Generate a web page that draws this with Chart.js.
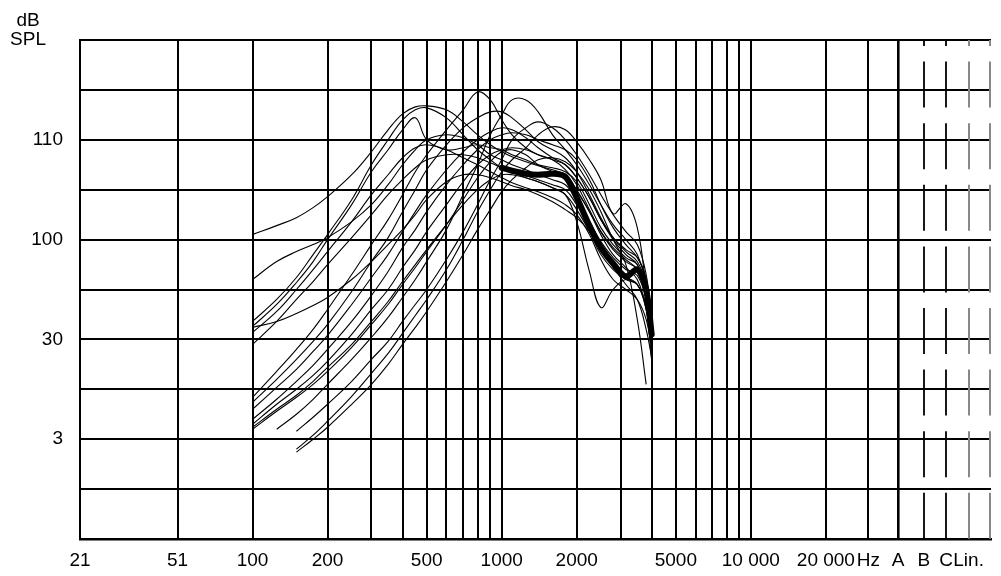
<!DOCTYPE html>
<html><head><meta charset="utf-8">
<script src="https://cdn.jsdelivr.net/npm/chart.js@4"></script>
<style>html,body{margin:0;padding:0;background:#fff;}#wrap{width:1001px;height:576px;position:relative;}</style>
</head><body><div id="wrap"><canvas id="c"></canvas></div>
<script>
const frequencies = [100,125,150,175,200,250,300,350,400,450,500,600,700,800,900,1000,1100,1250,1400,1600,1800,2000,2250,2500,2800,3150,3500,3800,4000];
const curve01 = [100.5,101.4,102.2,103.2,104.3,106.5,108.8,111.0,112.6,113.3,113.4,113.0,111.8,110.5,109.5,108.8,108.3,107.8,107.4,107.0,106.5,105.0,102.8,100.8,99.2,98.0,97.0,94.5,91.5];
const curve02 = [96.0,97.8,98.8,99.5,100.2,101.8,103.5,105.5,107.5,109.0,110.0,110.5,110.2,109.5,108.5,108.0,107.5,107.0,106.5,106.0,105.5,104.0,101.8,99.8,98.2,97.0,96.4,94.0,90.5];
const curve03 = [91.8,94.0,96.2,98.5,100.5,104.0,107.5,110.0,112.0,113.0,113.2,112.2,110.5,109.0,108.0,107.2,106.8,106.2,105.8,105.2,104.5,103.0,100.8,98.5,97.0,96.0,95.5,93.0,89.5];
const curve04 = [91.3,93.5,95.7,97.8,100.0,103.5,106.8,109.0,111.0,112.2,110.0,109.0,109.2,109.5,109.2,109.0,108.5,108.0,107.5,107.2,106.8,105.8,103.5,101.2,99.5,98.2,97.5,95.0,91.0];
const curve05 = [90.7,92.8,95.0,97.0,98.8,101.8,104.5,106.5,108.2,109.2,109.5,109.0,108.2,107.5,106.8,106.2,105.7,105.2,104.8,104.2,103.5,102.5,100.5,98.0,96.0,95.0,94.0,92.0,89.0];
const curve06 = [89.5,91.8,94.0,95.8,97.5,100.2,102.5,104.5,106.0,107.2,108.0,108.5,108.5,108.2,107.7,107.2,106.8,106.4,106.0,105.5,105.0,103.5,101.5,99.2,97.5,96.2,95.5,93.5,90.0];
const curve07 = [84.2,86.8,89.0,91.0,93.0,96.5,99.5,102.0,104.5,106.8,108.5,111.0,113.0,114.8,114.0,112.0,110.5,109.2,108.5,108.0,107.5,106.2,104.2,102.0,100.0,98.5,97.5,94.8,91.0];
const curve08 = [83.7,86.0,88.0,89.8,91.5,94.8,97.8,100.2,102.8,105.0,107.0,109.5,111.2,112.2,112.8,112.8,112.2,111.0,109.8,109.0,108.2,106.8,104.5,102.2,100.2,98.8,97.8,95.5,91.5];
const curve09 = [83.0,85.2,87.0,88.8,90.4,93.5,96.2,98.5,100.8,102.8,104.5,107.0,108.8,110.0,110.8,111.2,111.0,110.2,109.2,108.2,107.5,106.2,104.2,102.0,100.2,99.0,98.2,96.0,92.0];
const curve10 = [82.0,84.0,85.8,87.4,89.0,91.8,94.4,96.8,99.2,101.0,102.8,105.5,107.5,109.0,110.0,110.5,110.7,110.5,110.0,109.5,109.0,108.0,106.0,103.5,101.2,99.5,98.2,96.0,89.5];
const curve11 = [81.5,83.5,85.0,86.4,87.8,90.5,93.0,95.0,97.2,99.0,100.8,103.5,105.8,107.5,108.5,109.0,109.2,109.0,108.5,108.0,107.0,105.5,103.0,100.8,99.0,97.8,97.0,94.0,89.0];
const curve12 = [81.0,82.8,84.2,85.5,86.8,89.2,91.5,93.5,95.5,97.2,98.8,101.5,104.0,106.2,107.8,108.8,109.0,108.5,107.5,106.8,106.0,104.8,102.8,100.5,98.5,97.2,96.0,93.0,87.8];
const curve13 = [null,81.0,82.5,84.0,85.5,88.0,90.2,92.2,94.2,96.0,97.8,101.0,104.5,107.5,110.5,112.5,114.0,114.0,112.8,110.5,109.0,107.5,105.5,103.5,101.5,100.0,98.5,95.5,92.0];
const curve14 = [null,null,80.8,82.2,83.5,85.8,88.0,89.8,91.8,93.5,95.0,98.0,100.8,103.5,106.0,108.0,110.0,111.2,111.8,111.2,110.0,108.5,106.5,104.5,102.5,100.8,99.5,96.5,92.2];
const curve15 = [null,null,79.0,80.4,81.8,84.3,86.6,88.6,90.6,92.4,94.0,97.0,100.0,102.8,105.0,106.8,108.0,109.2,110.5,111.3,111.0,109.8,108.0,106.0,102.6,103.6,101.2,95.0,90.5];
const curve16 = [81.2,83.0,84.4,85.8,87.2,89.5,91.8,93.8,95.8,97.5,99.0,101.5,103.5,105.0,106.0,106.5,106.5,106.2,105.8,105.2,104.5,101.8,96.8,93.2,95.0,96.0,95.5,93.0,89.5];
const curve17 = [91.2,91.8,92.6,93.4,94.2,96.0,97.8,99.5,101.0,102.5,104.0,105.8,106.5,106.5,106.2,105.8,105.4,105.0,104.5,103.8,103.0,102.2,100.8,99.0,97.2,95.5,94.0,91.0,88.2];
const curve18 = [null,null,78.7,80.0,81.2,83.5,85.5,87.5,89.5,91.2,92.8,95.8,98.5,101.0,103.0,104.8,106.0,107.2,108.0,108.2,107.8,106.8,105.0,102.8,100.0,97.5,92.0,85.5,null];
const thickCurve = [null,null,null,null,null,null,null,null,null,null,null,null,null,null,null,107.2,106.9,106.6,106.5,106.6,106.3,104.2,101.4,99.2,97.6,96.3,97.0,95.0,90.5];

const xTickValues = [20.3,50,100,200,300,400,500,600,700,800,900,1000,2000,3000,4000,5000,6000,7000,8000,9000,10000,20000,29600,39000,49400,60800,74800,92000];
const xTickLabels = ['21','51','100','200','','','500','','','','','1000','2000','','','5000','','','','','10 000','20 000','Hz','A','B','C','Lin.',''];
const yTickValues = [70,75,80,85,90,95,100,105,110,115,120];
const yTickLabels = ['','','3','','30','','100','','110','',''];
const yTitle = ['dB','SPL'];

const thinCurves = [curve01,curve02,curve03,curve04,curve05,curve06,curve07,curve08,curve09,curve10,curve11,curve12,curve13,curve14,curve15,curve16,curve17,curve18];
const FONT = '"Liberation Sans", Arial, sans-serif';
const toPts = arr => frequencies.map((f,i)=>({x:f,y:arr[i]}));

const datasets = thinCurves.map(c=>({data:toPts(c),borderColor:'#000',borderWidth:1.1,pointRadius:0,tension:0.4,fill:false}));
datasets.push({data:toPts(thickCurve),borderColor:'#000',borderWidth:6,pointRadius:0,tension:0.3,fill:false,borderCapStyle:'round',borderJoinStyle:'round'});

const dashedStyle = {24:{color:'#000',width:1.8},25:{color:'#000',width:1.8},26:{color:'#888',width:2},27:{color:'#888',width:2}};

const overlay = {
  id:'overlay',
  beforeDatasetsDraw(chart){
    const {ctx, chartArea:a, scales:{x}} = chart;
    ctx.save();
    ctx.setLineDash([46,15.6]);
    ctx.lineDashOffset = a.top;
    Object.keys(dashedStyle).forEach(k=>{
      const st = dashedStyle[k];
      const px = Math.round(x.getPixelForValue(xTickValues[+k])) - (+k===27?1:0);
      ctx.strokeStyle = st.color; ctx.lineWidth = st.width;
      ctx.beginPath(); ctx.moveTo(px, a.top); ctx.lineTo(px, a.bottom); ctx.stroke();
    });
    ctx.restore();
  },
  afterDraw(chart){
    const ctx = chart.ctx;
    ctx.save();
    ctx.fillStyle = '#000';
    ctx.font = '19px ' + FONT;
    ctx.textAlign = 'center'; ctx.textBaseline = 'middle';
    ctx.fillText(yTitle[0], 28, 21);
    ctx.fillText(yTitle[1], 28, 40);
    ctx.restore();
  }
};

new Chart(document.getElementById('c'), {
  type:'line',
  data:{datasets},
  options:{
    responsive:true, maintainAspectRatio:false, animation:false, devicePixelRatio:1,
    layout:{padding:{top:40,right:7,left:0,bottom:0}},
    plugins:{legend:{display:false},tooltip:{enabled:false}},
    scales:{
      x:{
        type:'logarithmic', min:xTickValues[0], max:xTickValues[xTickValues.length-1],
        afterBuildTicks:s=>{s.ticks = xTickValues.map(v=>({value:v}));},
        afterFit:s=>{s.height = 37;},
        ticks:{autoSkip:false,maxRotation:0,minRotation:0,padding:10,color:'#000',font:{family:FONT,size:19},callback:(v,i)=>xTickLabels[i]},
        grid:{drawTicks:false,color:c=>(dashedStyle[c.index]?'rgba(0,0,0,0)':'#000'),lineWidth:c=>(c.index===23?2.6:2)},
        border:{color:'#000',width:2.5}
      },
      y:{
        type:'linear', min:70, max:120,
        afterBuildTicks:s=>{s.ticks = yTickValues.map(v=>({value:v}));},
        afterFit:s=>{s.width = 80;},
        ticks:{padding:17,color:'#000',font:{family:FONT,size:19},callback:(v,i)=>yTickLabels[i]},
        grid:{drawTicks:false,color:'#000',lineWidth:2},
        border:{color:'#000',width:2}
      }
    }
  },
  plugins:[overlay]
});
</script></body></html>
